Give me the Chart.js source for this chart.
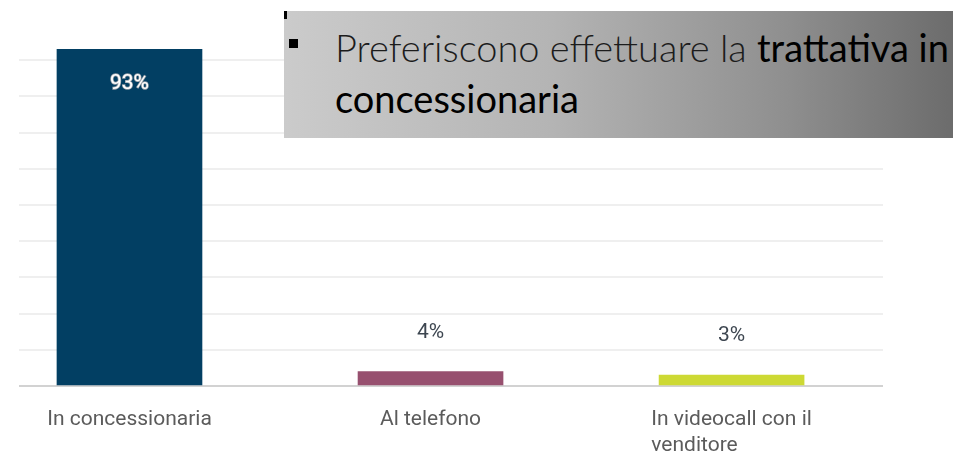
<!DOCTYPE html>
<html>
<head>
<meta charset="utf-8">
<script src="https://cdn.jsdelivr.net/npm/chart.js@4"></script>
<style>
  html, body { margin: 0; padding: 0; background: #fff; }
  #wrap { position: relative; width: 953px; height: 455px; overflow: hidden; }
  #box {
    position: absolute; left: 284px; top: 11px; width: 669px; height: 127px;
    background: linear-gradient(to right, #cbcbcb 0%, #b4b4b4 40%, #8f8f8f 75%, #6c6c6c 100%);
    font-family: Lato, "Noto Sans", sans-serif; font-weight: 300; color: #1c1c1c;
    font-size: 38px; line-height: 50px;
  }
  #box .riga { position: absolute; left: 51px; white-space: nowrap; }
  #box b { font-weight: 400; color: #000; }
  #bullet { position: absolute; left: 5px; top: 28px; width: 9px; height: 9px; background: #000; }
  #tick { position: absolute; left: 284px; top: 11px; width: 3px; height: 8px; background: #000; }
</style>
</head>
<body>
<div id="wrap">
  <canvas id="grafico" width="953" height="455"></canvas>
  <div id="box">
    <div id="bullet"></div>
    <div class="riga" style="top: 11px;">Preferiscono effettuare la <b>trattativa in</b></div>
    <div class="riga" style="top: 62px;"><b>concessionaria</b></div>
  </div>
  <div id="tick"></div>
</div>
<script>
// Dati del grafico
const categorie = ['In concessionaria', 'Al telefono', 'In videocall con il venditore'];
const righeEtichette = [['In concessionaria'], ['Al telefono'], ['In videocall con il', 'venditore']];
const valori = [93, 4, 3];
const colori = ['#023f63', '#97506f', '#cdd934'];
const tickY = [0, 10, 20, 30, 40, 50, 60, 70, 80, 90, 100];

// Etichette percentuali sopra (o dentro) le barre
const etichettePercentuali = {
    id: 'etichettePercentuali',
    afterDatasetsDraw(chart) {
        const ctx = chart.ctx;
        const meta = chart.getDatasetMeta(0);
        ctx.save();
        ctx.font = '21px Roboto, sans-serif';
        ctx.textAlign = 'center';
        ctx.textBaseline = 'middle';
        meta.data.forEach(function (bar, i) {
            const testo = valori[i] + '%';
            if (valori[i] > 50) {
                ctx.lineWidth = 1.5;
                ctx.strokeStyle = '#9aa0a8';
                ctx.strokeText(testo, bar.x, bar.y + 34);
                ctx.fillStyle = '#ffffff';
                ctx.fillText(testo, bar.x, bar.y + 34);
            } else {
                ctx.fillStyle = '#3d4650';
                ctx.fillText(testo, bar.x, bar.y - 39);
            }
        });
        ctx.restore();
    }
};

// Etichette delle categorie, allineate a sinistra dentro il blocco
const etichetteCategorie = {
    id: 'etichetteCategorie',
    afterDraw(chart) {
        const ctx = chart.ctx;
        const x = chart.scales.x;
        ctx.save();
        ctx.font = '21px Roboto, sans-serif';
        ctx.fillStyle = '#5b5b5b';
        ctx.textAlign = 'left';
        ctx.textBaseline = 'middle';
        righeEtichette.forEach(function (righe, i) {
            const larghezza = Math.max.apply(null, righe.map(r => ctx.measureText(r).width));
            const sinistra = x.getPixelForValue(i) - larghezza / 2;
            righe.forEach(function (r, k) {
                ctx.fillText(r, sinistra, 420 + k * 26);
            });
        });
        ctx.restore();
    }
};

new Chart(document.getElementById('grafico'), {
    type: 'bar',
    data: {
        datasets: [{
            label: 'Risposte',
            data: valori.map((v, i) => ({ x: i, y: v })),
            backgroundColor: colori,
            barThickness: 145,
            borderWidth: 0
        }]
    },
    options: {
        responsive: false,
        animation: false,
        events: [],
        layout: { padding: { left: 19, right: 70, top: 24, bottom: 69 } },
        plugins: {
            legend: { display: false },
            tooltip: { enabled: false }
        },
        scales: {
            x: {
                type: 'linear',
                min: -0.367,
                max: 2.503,
                offset: false,
                display: false,
                grid: { display: false }
            },
            y: {
                min: 0,
                max: 100,
                afterBuildTicks(axis) { axis.ticks = tickY.map(v => ({ value: v })); },
                ticks: { display: false },
                border: { display: false },
                grid: {
                    drawTicks: false,
                    lineWidth: 2,
                    color: function (c) {
                        if (c.tick.value === 0) return '#d2d2d2';
                        if (c.tick.value === 100) return 'rgba(0,0,0,0)';
                        return '#efefef';
                    }
                }
            }
        }
    },
    plugins: [etichettePercentuali, etichetteCategorie]
});
</script>
</body>
</html>
